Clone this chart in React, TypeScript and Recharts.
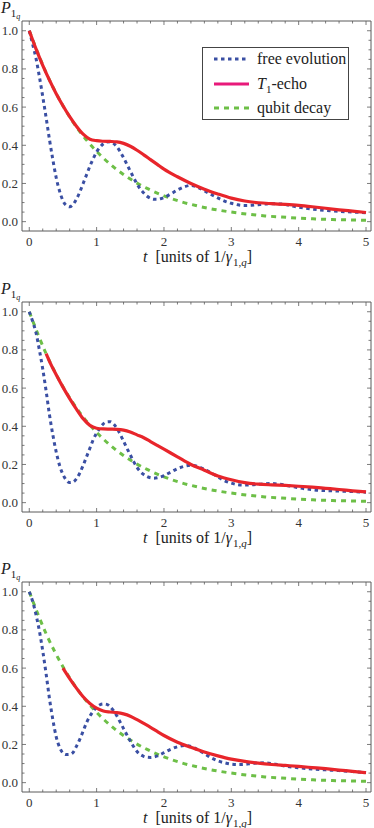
import React from 'react';
import { ComposedChart, Line, XAxis, YAxis } from 'recharts';

// ---------- axis ticks ----------
const xTicks = [0, 0.2, 0.4, 0.6, 0.8, 1, 1.2, 1.4, 1.6, 1.8, 2, 2.2, 2.4, 2.6, 2.8, 3, 3.2, 3.4, 3.6, 3.8, 4, 4.2, 4.4, 4.6, 4.8, 5];
const xMajor = [0, 1, 2, 3, 4, 5];
const yTicks = [0, 0.05, 0.1, 0.15, 0.2, 0.25, 0.3, 0.35, 0.4, 0.45, 0.5, 0.55, 0.6, 0.65, 0.7, 0.75, 0.8, 0.85, 0.9, 0.95, 1.0];
const yMajor = [0, 0.2, 0.4, 0.6, 0.8, 1.0];
const yMajorLabels = ['0.0', '0.2', '0.4', '0.6', '0.8', '1.0'];

// ---------- series names ----------
const seriesNames = ['free evolution', 'T1-echo', 'qubit decay'];

// ---------- qubit decay (green) ----------
const decayT = [0, 0.25, 0.5, 0.75, 1, 1.25, 1.5, 1.75, 2, 2.25, 2.5, 2.75, 3, 3.25, 3.5, 3.75, 4, 4.25, 4.5, 4.75, 5];
const decayP = [1.0, 0.78, 0.607, 0.472, 0.368, 0.287, 0.223, 0.174, 0.135, 0.105, 0.082, 0.064, 0.05, 0.039, 0.03, 0.024, 0.018, 0.014, 0.011, 0.009, 0.007];

// ---------- free evolution (blue) ----------
const freeT = [0, 0.05, 0.1, 0.15, 0.2, 0.25, 0.3, 0.35, 0.4, 0.45, 0.5, 0.55, 0.6, 0.65, 0.7, 0.75, 0.8, 0.85, 0.9, 0.95, 1.0, 1.05, 1.1, 1.15, 1.2, 1.25, 1.3, 1.35, 1.4, 1.45, 1.5, 1.55, 1.6, 1.65, 1.7, 1.75, 1.8, 1.85, 1.9, 1.95, 2.0, 2.1, 2.2, 2.3, 2.4, 2.5, 2.6, 2.7, 2.8, 2.9, 3.0, 3.1, 3.2, 3.3, 3.4, 3.5, 3.6, 3.7, 3.8, 3.9, 4.0, 4.2, 4.4, 4.6, 4.8, 5.0];
const freeP1 = [1.0, 0.93, 0.855, 0.76, 0.655, 0.545, 0.43, 0.325, 0.23, 0.16, 0.11, 0.085, 0.078, 0.09, 0.118, 0.155, 0.2, 0.245, 0.29, 0.33, 0.365, 0.39, 0.408, 0.417, 0.418, 0.41, 0.392, 0.366, 0.335, 0.3, 0.265, 0.23, 0.197, 0.17, 0.15, 0.133, 0.122, 0.117, 0.117, 0.12, 0.126, 0.145, 0.166, 0.182, 0.19, 0.18, 0.162, 0.142, 0.124, 0.108, 0.096, 0.088, 0.085, 0.086, 0.089, 0.092, 0.094, 0.093, 0.09, 0.082, 0.076, 0.066, 0.059, 0.054, 0.05, 0.047];
const freeP2 = [1.0, 0.95, 0.89, 0.8, 0.7, 0.585, 0.46, 0.355, 0.265, 0.195, 0.148, 0.118, 0.105, 0.108, 0.125, 0.155, 0.195, 0.24, 0.285, 0.33, 0.365, 0.392, 0.413, 0.423, 0.424, 0.413, 0.39, 0.358, 0.322, 0.285, 0.25, 0.215, 0.185, 0.162, 0.147, 0.136, 0.13, 0.128, 0.13, 0.135, 0.142, 0.16, 0.178, 0.19, 0.196, 0.19, 0.175, 0.156, 0.135, 0.115, 0.102, 0.094, 0.092, 0.093, 0.096, 0.099, 0.1, 0.097, 0.092, 0.085, 0.078, 0.068, 0.063, 0.061, 0.058, 0.055];
const freeP3 = [1.0, 0.95, 0.88, 0.795, 0.69, 0.57, 0.44, 0.33, 0.24, 0.185, 0.155, 0.147, 0.148, 0.158, 0.19, 0.227, 0.27, 0.314, 0.348, 0.375, 0.395, 0.408, 0.412, 0.41, 0.398, 0.377, 0.35, 0.317, 0.283, 0.25, 0.218, 0.188, 0.163, 0.147, 0.138, 0.133, 0.132, 0.134, 0.14, 0.148, 0.157, 0.175, 0.188, 0.194, 0.19, 0.172, 0.152, 0.13, 0.114, 0.104, 0.097, 0.095, 0.096, 0.1, 0.103, 0.104, 0.1, 0.093, 0.087, 0.082, 0.078, 0.071, 0.067, 0.063, 0.058, 0.053];

// ---------- T1-echo (red) ----------
const echoT1 = [0, 0.1, 0.2, 0.3, 0.4, 0.5, 0.6, 0.7, 0.8, 0.9, 1.0, 1.1, 1.2, 1.3, 1.4, 1.5, 1.6, 1.7, 1.8, 1.9, 2.0, 2.2, 2.4, 2.6, 2.8, 3.0, 3.2, 3.4, 3.6, 3.8, 4.0, 4.2, 4.4, 4.6, 4.8, 5.0];
const echoP1 = [1.0, 0.905, 0.819, 0.741, 0.67, 0.607, 0.55, 0.5, 0.458, 0.432, 0.424, 0.421, 0.42, 0.418, 0.41, 0.395, 0.374, 0.35, 0.325, 0.3, 0.275, 0.235, 0.2, 0.17, 0.145, 0.123, 0.108, 0.099, 0.094, 0.09, 0.085, 0.078, 0.07, 0.062, 0.055, 0.048];
const echoT2 = [0.25, 0.3, 0.4, 0.5, 0.6, 0.7, 0.8, 0.9, 1.0, 1.1, 1.2, 1.3, 1.4, 1.5, 1.6, 1.7, 1.8, 1.9, 2.0, 2.2, 2.4, 2.6, 2.8, 3.0, 3.2, 3.4, 3.6, 3.8, 4.0, 4.2, 4.4, 4.6, 4.8, 5.0];
const echoP2 = [0.78, 0.74, 0.67, 0.605, 0.545, 0.49, 0.44, 0.405, 0.39, 0.386, 0.385, 0.384, 0.38, 0.37, 0.355, 0.34, 0.32, 0.3, 0.28, 0.24, 0.2, 0.17, 0.14, 0.12, 0.105, 0.097, 0.093, 0.09, 0.086, 0.081, 0.075, 0.069, 0.062, 0.056];
const echoT3 = [0.5, 0.6, 0.7, 0.8, 0.9, 1.0, 1.1, 1.2, 1.3, 1.4, 1.5, 1.6, 1.7, 1.8, 1.9, 2.0, 2.2, 2.4, 2.6, 2.8, 3.0, 3.2, 3.4, 3.6, 3.8, 4.0, 4.2, 4.4, 4.6, 4.8, 5.0];
const echoP3 = [0.6, 0.545, 0.495, 0.45, 0.415, 0.39, 0.375, 0.37, 0.367, 0.36, 0.348, 0.33, 0.31, 0.29, 0.268, 0.247, 0.212, 0.185, 0.16, 0.14, 0.123, 0.111, 0.102, 0.095, 0.09, 0.085, 0.079, 0.073, 0.066, 0.059, 0.052];

const zip = (ts: number[], ps: number[]) => ts.map((t, i) => ({ t, p: ps[i] }));

const panels = [
  { free: zip(freeT, freeP1), echo: zip(echoT1, echoP1), decay: zip(decayT, decayP), legend: true },
  { free: zip(freeT, freeP2), echo: zip(echoT2, echoP2), decay: zip(decayT, decayP), legend: false },
  { free: zip(freeT, freeP3), echo: zip(echoT3, echoP3), decay: zip(decayT, decayP), legend: false },
];

const FRAME = '#5a5a5a';
const LABEL = '#333';
const BLUE = '#3a4fa3';
const RED = '#e8252b';
const LEGEND_RED = '#e8197a';
const GREEN = '#6dbf47';
const SERIF = "'Liberation Serif', 'Times New Roman', Times, 'DejaVu Serif', serif";

const isIn = (arr: number[], v: number) => arr.some((a) => Math.abs(a - v) < 1e-9);

const BottomTick = (props: any) => {
  const { x, y, payload } = props;
  const v = payload.value;
  const major = isIn(xMajor, v);
  return (
    <g>
      <line x1={x} x2={x} y1={y} y2={y - (major ? 4 : 2.5)} stroke={FRAME} strokeWidth={0.8} />
      {major && (
        <text x={x} y={y + 15} textAnchor="middle" fontSize={13} style={{ fontFamily: SERIF }} fill={LABEL}>
          {String(v)}
        </text>
      )}
    </g>
  );
};

const TopTick = (props: any) => {
  const { x, y, payload } = props;
  const major = isIn(xMajor, payload.value);
  return <line x1={x} x2={x} y1={y} y2={y + (major ? 4 : 2.5)} stroke={FRAME} strokeWidth={0.8} />;
};

const LeftTick = (props: any) => {
  const { x, y, payload } = props;
  const v = payload.value;
  const idx = yMajor.findIndex((m) => Math.abs(m - v) < 1e-9);
  const major = idx >= 0;
  return (
    <g>
      <line x1={x} x2={x + (major ? 4 : 2.5)} y1={y} y2={y} stroke={FRAME} strokeWidth={0.8} />
      {major && (
        <text x={x - 4} y={y + 4.5} textAnchor="end" fontSize={13} style={{ fontFamily: SERIF }} fill={LABEL}>
          {yMajorLabels[idx]}
        </text>
      )}
    </g>
  );
};

const RightTick = (props: any) => {
  const { x, y, payload } = props;
  const major = isIn(yMajor, payload.value);
  return <line x1={x} x2={x - (major ? 4 : 2.5)} y1={y} y2={y} stroke={FRAME} strokeWidth={0.8} />;
};

const legendItems = [
  { name: seriesNames[0], color: BLUE, dash: '3.5 3.5' },
  { name: seriesNames[1], color: LEGEND_RED, dash: undefined },
  { name: seriesNames[2], color: GREEN, dash: '5 5' },
];

const subStyle: React.CSSProperties = { fontSize: 11, position: 'relative', top: 4, lineHeight: '11px' };

const LegendBox = () => (
  <div
    style={{
      position: 'absolute',
      left: 202,
      top: 47,
      width: 145,
      height: 71,
      border: '1px solid #444',
      background: '#fff',
      fontFamily: SERIF,
      fontSize: 16,
      color: '#222',
    }}
  >
    {legendItems.map((it, i) => (
      <div key={i} style={{ position: 'absolute', left: 0, top: 1 + i * 24.5, height: 20, width: 145 }}>
        <svg width={50} height={20} style={{ position: 'absolute', left: 0, top: 0 }}>
          <line x1={11} x2={46} y1={10} y2={10} stroke={it.color} strokeWidth={3} strokeDasharray={it.dash} />
        </svg>
        <span style={{ position: 'absolute', left: 54, top: 0, lineHeight: '20px', whiteSpace: 'nowrap' }}>
          {i === 1 ? (
            <>
              <i>T</i>
              <span style={subStyle}>1</span>-echo
            </>
          ) : (
            it.name
          )}
        </span>
      </div>
    ))}
  </div>
);

const Panel = ({ data, top }: { data: any; top: number }) => (
  <div style={{ position: 'absolute', left: 0, top, width: 374, height: 280 }}>
    <ComposedChart width={374} height={280} margin={{ top: 20, right: 2, bottom: 19, left: 0 }}>
      <XAxis
        xAxisId="b"
        dataKey="t"
        type="number"
        domain={[-0.108, 5.074]}
        allowDataOverflow
        ticks={xTicks}
        interval={0}
        height={30}
        tickSize={0}
        tickMargin={0}
        stroke={FRAME}
        tickLine={false}
        tick={<BottomTick />}
      />
      <XAxis
        xAxisId="top"
        orientation="top"
        dataKey="t"
        type="number"
        domain={[-0.108, 5.074]}
        allowDataOverflow
        ticks={xTicks}
        interval={0}
        height={1}
        tickSize={0}
        tickMargin={0}
        stroke={FRAME}
        tickLine={false}
        tick={<TopTick />}
      />
      <YAxis
        yAxisId="l"
        type="number"
        domain={[-0.049, 1.051]}
        allowDataOverflow
        ticks={yTicks}
        interval={0}
        width={22}
        tickSize={0}
        tickMargin={0}
        stroke={FRAME}
        tickLine={false}
        tick={<LeftTick />}
      />
      <YAxis
        yAxisId="r"
        orientation="right"
        type="number"
        domain={[-0.049, 1.051]}
        allowDataOverflow
        ticks={yTicks}
        interval={0}
        width={1}
        tickSize={0}
        tickMargin={0}
        stroke={FRAME}
        tickLine={false}
        tick={<RightTick />}
      />
      <Line
        xAxisId="b"
        yAxisId="l"
        data={data.decay}
        dataKey="p"
        type="monotone"
        stroke={GREEN}
        strokeWidth={3}
        strokeDasharray="5 5"
        dot={false}
        isAnimationActive={false}
      />
      <Line
        xAxisId="b"
        yAxisId="l"
        data={data.free}
        dataKey="p"
        type="monotone"
        stroke={BLUE}
        strokeWidth={3}
        strokeDasharray="3.5 3.5"
        dot={false}
        isAnimationActive={false}
      />
      <Line
        xAxisId="b"
        yAxisId="l"
        data={data.echo}
        dataKey="p"
        type="monotone"
        stroke={RED}
        strokeWidth={3.2}
        dot={false}
        isAnimationActive={false}
      />
    </ComposedChart>
    <div
      style={{
        position: 'absolute',
        left: 1,
        top: -1,
        fontFamily: SERIF,
        fontSize: 16,
        lineHeight: '18px',
        color: '#222',
        whiteSpace: 'nowrap',
      }}
    >
      <i>P</i>
      <span style={subStyle}>
        1<span style={{ fontSize: 8, position: 'relative', top: 2, lineHeight: '8px' }}><i>q</i></span>
      </span>
    </div>
    <div
      style={{
        position: 'absolute',
        left: 143,
        top: 250,
        fontFamily: SERIF,
        fontSize: 16,
        lineHeight: '14px',
        color: '#222',
        whiteSpace: 'nowrap',
      }}
    >
      <i>t</i>&nbsp;&nbsp;[units of 1/<i>γ</i><span style={{ ...subStyle, marginLeft: 1 }}>1,<i>q</i></span>]
    </div>
    {data.legend && <LegendBox />}
  </div>
);

export default function App() {
  const tops = [0, 281, 561];
  return (
    <div style={{ position: 'absolute', left: 0, top: 0, width: 374, height: 828, overflow: 'hidden', background: '#fff' }}>
      {panels.map((p, i) => (
        <Panel key={i} data={p} top={tops[i]} />
      ))}
    </div>
  );
}
